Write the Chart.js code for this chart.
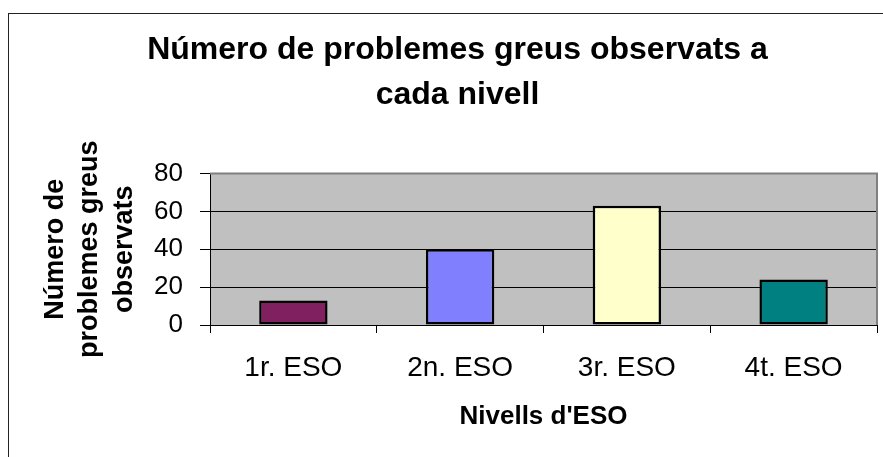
<!DOCTYPE html>
<html>
<head>
<meta charset="utf-8">
<script src="https://cdn.jsdelivr.net/npm/chart.js@4"></script>
<style>
  html, body { margin: 0; padding: 0; background: #fff; overflow: hidden; }
  #wrap { position: relative; width: 883px; height: 457px; }
  #frame { position: absolute; left: 8px; top: 13px; width: 900px; height: 480px; border: 1px solid #222; }
  #chart { position: absolute; left: 0; top: 0; }
</style>
</head>
<body>
<div id="wrap">
  <div id="frame"></div>
  <canvas id="chart" width="883" height="457"></canvas>
</div>
<script>
// data
var levels = ['1r. ESO', '2n. ESO', '3r. ESO', '4t. ESO'];
var problems = [13, 40, 63, 24];
var barColors = ['#802060', '#8080FF', '#FFFFCC', '#008080'];
var yTicks = [0, 20, 40, 60, 80];

var fontName = "'Liberation Sans', Arial, sans-serif";

// grey plot background with grey top/right edge, like the old Excel charts
var plotArea = {
  id: 'plotArea',
  beforeDraw: function(chart) {
    var a = chart.chartArea;
    var ctx = chart.ctx;
    ctx.save();
    ctx.fillStyle = '#C0C0C0';
    ctx.fillRect(a.left, a.top, a.right - a.left, a.bottom - a.top);
    ctx.restore();
  },
  beforeDatasetsDraw: function(chart) {
    var a = chart.chartArea;
    var ctx = chart.ctx;
    ctx.save();
    ctx.strokeStyle = '#808080';
    ctx.lineWidth = 2;
    ctx.beginPath();
    ctx.moveTo(a.left, a.top);
    ctx.lineTo(a.right, a.top);
    ctx.lineTo(a.right, a.bottom);
    ctx.stroke();
    ctx.restore();
  }
};

function onPageLoad() {
  new Chart(document.getElementById('chart'), {
    type: 'bar',
    data: {
      labels: levels,
      datasets: [{
        data: problems,
        backgroundColor: barColors,
        borderColor: '#000',
        borderWidth: 2.5,
        borderSkipped: false,
        barPercentage: 0.41,
        categoryPercentage: 1
      }]
    },
    options: {
      responsive: false,
      animation: false,
      layout: { padding: { left: 38, right: 6, top: 0, bottom: 0 } },
      plugins: {
        legend: { display: false },
        tooltip: { enabled: false },
        title: {
          display: true,
          text: ['Número de problemes greus observats a', 'cada nivell'],
          color: '#000',
          font: { family: fontName, size: 32, weight: 'bold', lineHeight: 1.4 },
          padding: { top: 28, bottom: 56 }
        }
      },
      scales: {
        x: {
          afterFit: function(scale) { scale.height = 132; },
          grid: { offset: true, drawOnChartArea: false, drawTicks: true, tickLength: 8, color: '#000' },
          border: { display: true, color: '#000', width: 1 },
          ticks: { color: '#000', padding: 18, font: { family: fontName, size: 28 } },
          title: {
            display: true,
            text: "Nivells d'ESO",
            color: '#000',
            font: { family: fontName, size: 26, weight: 'bold', lineHeight: 1.2 },
            padding: { top: 0, bottom: 25 }
          }
        },
        y: {
          min: 0,
          max: 80,
          afterFit: function(scale) { scale.width = 172; },
          afterBuildTicks: function(scale) {
            scale.ticks = yTicks.map(function(v) { return { value: v }; });
          },
          grid: { color: '#000', lineWidth: 1, tickLength: 10 },
          border: { display: true, color: '#000', width: 1 },
          ticks: { color: '#000', padding: 17, font: { family: fontName, size: 26 } },
          title: {
            display: true,
            text: ['Número de', 'problemes greus', 'observats'],
            color: '#000',
            font: { family: fontName, size: 27, weight: 'bold', lineHeight: 1.28 },
            padding: { top: 0, bottom: 0 }
          }
        }
      }
    },
    plugins: [plotArea]
  });
}

window.addEventListener('load', onPageLoad);
</script>
</body>
</html>
